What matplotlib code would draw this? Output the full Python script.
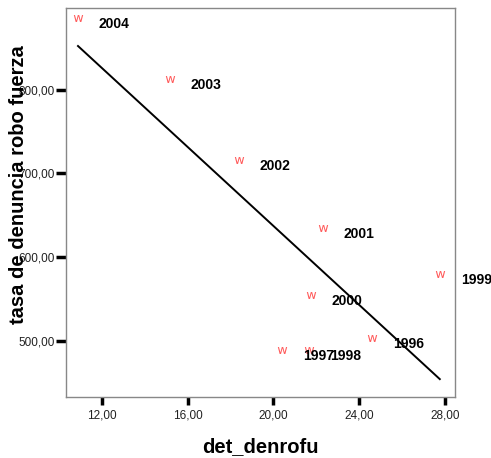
import numpy as np
import matplotlib
matplotlib.use("Agg")
import matplotlib.pyplot as plt
from matplotlib.ticker import FuncFormatter

years = ["2004", "2003", "2002", "2001", "1999", "2000", "1996", "1997", "1998"]
det_denrofu = [10.88, 15.17, 18.39, 22.31, 27.76, 21.75, 24.59, 20.40, 21.65]
tasa_robo = [886, 813, 716, 635, 580, 555, 504, 489, 489]
x_ticks = [12, 16, 20, 24, 28]
y_ticks = [500, 600, 700, 800]

plt.rcParams['font.family'] = ['Liberation Sans', 'DejaVu Sans']

fig = plt.figure(figsize=(4.91, 4.58), dpi=100)
ax = fig.add_axes([0.1344, 0.1332, 0.7923, 0.8493])

x = np.array(det_denrofu)
y = np.array(tasa_robo)
ax.scatter(x, y, marker=r"$\mathsf{w}$", s=45, color="#ff5a5a", linewidths=0, zorder=3)

for xi, yi, lab in zip(x, y, years):
    ax.annotate(lab, (xi, yi), xytext=(15, -4.3), textcoords="offset points",
                ha="left", va="center", fontsize=10, fontweight="bold",
                color="black", annotation_clip=False)

slope, intercept = np.polyfit(x, y, 1)
xs = np.linspace(x.min(), x.max(), 50)
ax.plot(xs, slope * xs + intercept, color="black", linewidth=1.4, zorder=2)

ax.set_xlim(10.32, 28.47)
ax.set_ylim(433, 897.6)
ax.set_xticks(x_ticks)
ax.set_yticks(y_ticks)
fmt = FuncFormatter(lambda v, p: f"{v:.2f}".replace(".", ","))
ax.xaxis.set_major_formatter(fmt)
ax.yaxis.set_major_formatter(fmt)
ax.tick_params(axis="both", direction="out", length=7, width=2.5, color="black",
               labelsize=8.5, labelcolor="#222222")
ax.tick_params(axis="x", length=6, pad=3)
ax.tick_params(axis="y", pad=1)

for sp in ax.spines.values():
    sp.set_color("#888888")
    sp.set_linewidth(1.0)

ax.set_xlabel("det_denrofu", fontsize=14.5, fontweight="bold")
ax.xaxis.set_label_coords(0.5, -0.103)
ax.set_ylabel("tasa de denuncia robo fuerza", fontsize=14.5, fontweight="bold")
ax.yaxis.set_label_coords(-0.098, 0.545)

fig.savefig("out.png", dpi=100)
